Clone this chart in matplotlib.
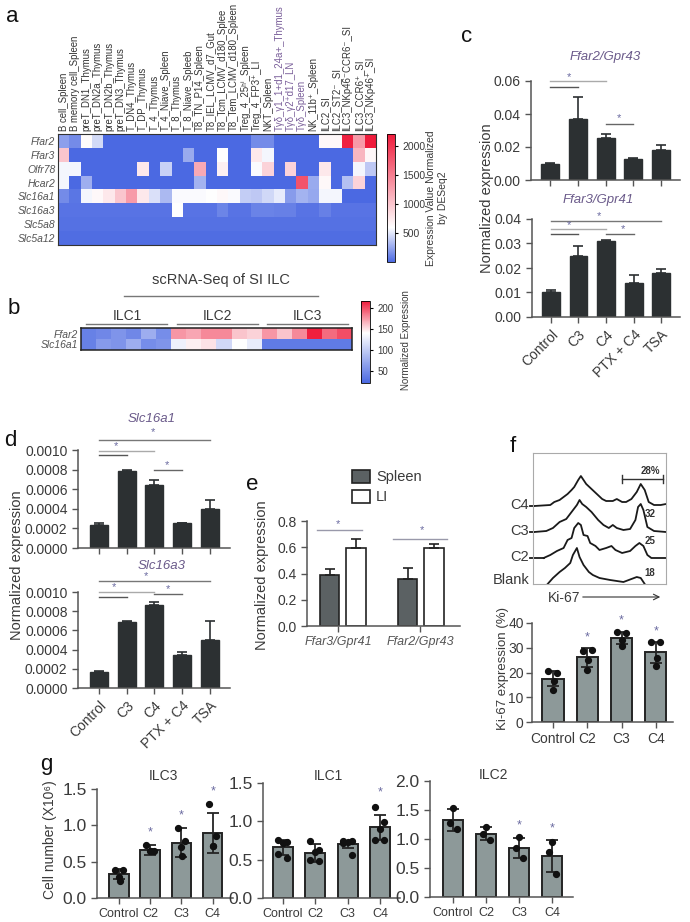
import numpy as np
import matplotlib
matplotlib.use("Agg")
import matplotlib.pyplot as plt
from matplotlib.colors import LinearSegmentedColormap
from matplotlib.lines import Line2D
from matplotlib.patches import Rectangle

plt.rcParams['font.family'] = ['Liberation Sans', 'DejaVu Sans']

# ---------------- data ----------------
cells_a = ["B cell_Spleen", "B memory cell_Spleen", "preT_DN1_Thymus", "preT_DN2a_Thymus",
           "preT_DN2b_Thymus", "preT_DN3_Thymus", "T_DN4_Thymus", "T_DP_Thymus", "T_4_Thymus",
           "T_4_Niave_Spleen", "T_8_Thymus", "T_8_Niave_Spleeb", "T8_TN_P14_Spleen",
           "T8_IEL_LCMV_d7_Gut", "T8_Tcm_LCMV_d180_Splee", "T8_Tem_LCMV_d180_Spleen",
           "Treg_4_25ʰⁱ_Spleen", "Treg_4_FP3⁺_LI", "NKT_Spleen", "Tγδ_γ1_1+d1_24a+_Thymus",
           "Tγδ_γ2⁺d17_LN", "Tγδ_Spleen", "NK_11b⁺_Spleen", "ILC2_SI", "ILC2_ST2⁻_SI",
           "ILC3_NKp46⁻CCR6⁻_SI", "ILC3_CCR6⁺_SI", "ILC3_NKp46⁺_SI"]
genes_a = ["Ffar2", "Ffar3", "Olfr78", "Hcar2", "Slc16a1", "Slc16a3", "Slc5a8", "Slc5a12"]
heat_a = [
    [220, 140, 620, 450, 0, 0, 0, 0, 0, 0, 0, 0, 0, 0, 0, 0, 0, 140, 140, 0, 0, 0, 0, 640, 640, 2150, 1300, 2200],
    [1000, 0, 0, 0, 0, 0, 0, 0, 0, 0, 0, 260, 0, 0, 600, 0, 0, 750, 560, 0, 0, 0, 0, 0, 0, 0, 1100, 650],
    [560, 560, 0, 0, 0, 0, 0, 750, 0, 420, 0, 0, 1200, 0, 700, 0, 0, 580, 900, 0, 900, 0, 0, 750, 0, 0, 560, 380],
    [560, 0, 280, 0, 0, 0, 0, 0, 0, 0, 0, 0, 300, 0, 0, 0, 0, 0, 0, 0, 0, 1800, 260, 640, 0, 350, 900, 0],
    [140, 60, 560, 640, 750, 1000, 1300, 750, 480, 320, 580, 580, 580, 600, 640, 580, 400, 380, 440, 520, 200, 300, 250, 560, 560, 0, 0, 0],
    [50, 50, 50, 50, 50, 50, 50, 50, 50, 50, 600, 50, 50, 50, 120, 50, 50, 110, 110, 100, 100, 50, 50, 100, 50, 50, 50, 50],
    [40] * 28,
    [20] * 28,
]

groups_b = ["ILC1", "ILC2", "ILC3"]
genes_b = ["Ffar2", "Slc16a1"]
heat_b = [
    [40, 45, 55, 45, 75, 50, 175, 170, 180, 180, 160, 155, 175, 160, 180, 215, 190, 200],
    [40, 60, 55, 75, 50, 55, 130, 145, 150, 110, 140, 125, 35, 35, 35, 35, 35, 35],
]

treat_cd = ["Control", "C3", "C4", "PTX + C4", "TSA"]
ffar2_mean = [0.0095, 0.037, 0.0255, 0.013, 0.018]
ffar2_err = [0.0008, 0.013, 0.0025, 0.0005, 0.003]
ffar3_mean = [0.010, 0.025, 0.031, 0.0138, 0.018]
ffar3_err = [0.001, 0.004, 0.0006, 0.0035, 0.0017]
slc16a1_mean = [0.00023, 0.00079, 0.00064, 0.00026, 0.00040]
slc16a1_err = [0.00003, 0.00001, 0.00005, 0.0, 0.00009]
slc16a3_mean = [0.00017, 0.00069, 0.00086, 0.00034, 0.00050]
slc16a3_err = [0.00001, 0.00001, 0.00004, 0.00004, 0.00020]

genes_e = ["Ffar3/Gpr41", "Ffar2/Gpr43"]
spleen_mean = [0.385, 0.355]
spleen_err = [0.05, 0.085]
li_mean = [0.595, 0.595]
li_err = [0.07, 0.03]

# Ki-67 histograms: x position (0-100) and height (px) per sample
ki_samples = ["C4", "C3", "C2", "Blank"]
ki_pct = ["28%", "32", "25", "18"]
ki_x = {
    "C4": [1, 13, 16, 20, 24, 26, 29, 31, 34, 36, 38, 40, 44, 48, 52, 55, 60, 63, 67, 70, 74, 78, 81, 84, 87, 91, 96, 100],
    "C3": [1, 10, 15, 20, 25, 29, 33, 35, 37, 40, 44, 49, 53, 57, 60, 63, 68, 73, 77, 79, 81, 83, 86, 91, 100],
    "C2": [8, 13, 18, 23, 26, 29, 31, 34, 36, 38, 41, 43, 47, 50, 55, 59, 62, 67, 73, 77, 80, 83, 86, 89, 100],
    "Blank": [11, 15, 20, 24, 28, 30, 33, 35, 38, 42, 45, 50, 58, 68, 74, 78, 81, 84],
}
ki_h = {
    "C4": [0, 1, 4, 6, 10, 12, 16, 19, 26, 30, 26, 22, 17, 12, 7, 5, 5, 7, 4, 4, 7, 14, 22, 16, 4, 1, 1, 2],
    "C3": [0, 1, 4, 10, 13, 20, 27, 32, 28, 25, 20, 12, 7, 4, 7, 4, 2, 3, 12, 25, 28, 22, 5, 1, 0],
    "C2": [0, 3, 7, 10, 18, 20, 30, 35, 33, 23, 22, 15, 12, 8, 10, 12, 8, 5, 7, 12, 15, 12, 3, 0, 0],
    "Blank": [0, 6, 12, 16, 21, 29, 36, 27, 19, 12, 9, 6, 4, 2, 5, 7, 6, 0],
}

treat_fg = ["Control", "C2", "C3", "C4"]
ki67_pts = [[20.5, 20.0, 16.5, 13.0], [28.8, 29.2, 25.2, 21.1], [36.2, 36.0, 33.3, 30.6], [32.2, 32.2, 25.9, 22.5]]
ki67_sd = [3.0, 3.8, 2.5, 4.3]
ki67_star = [None, 34, 41, 36.5]

ilc3_pts = [[0.39, 0.39, 0.29, 0.24], [0.73, 0.64, 0.64, 0.64], [0.97, 0.78, 0.70, 0.58], [1.30, 0.85, 0.71, 0.71]]
ilc3_sd = [0.07, 0.07, 0.20, 0.28]
ilc3_star = [None, 0.9, 1.13, 1.46]
ilc1_pts = [[0.76, 0.73, 0.72, 0.58, 0.52], [0.74, 0.63, 0.60, 0.50, 0.48],
            [0.75, 0.74, 0.73, 0.72, 0.56], [1.19, 0.99, 0.90, 0.76, 0.76]]
ilc1_sd = [0.10, 0.12, 0.05, 0.16]
ilc1_star = [None, None, None, 1.38]
ilc2_pts = [[1.53, 1.27, 1.17], [1.20, 1.08, 0.99], [1.03, 0.84, 0.67], [0.94, 0.77, 0.40]]
ilc2_sd = [0.19, 0.11, 0.17, 0.28]
ilc2_star = [None, None, 1.24, 1.18]

# ---------------- layout helpers ----------------
W, H = 690, 922
fig = plt.figure(figsize=(W / 100, H / 100), dpi=100)
fig.patch.set_facecolor("white")
TXT = "#3a3a3a"
STAR = "#6a6aa0"


def px_axes(x0, y0, x1, y1):
    return fig.add_axes([x0 / W, 1 - y1 / H, (x1 - x0) / W, (y1 - y0) / H])


def fig_text(x, y, s, **kw):
    kw.setdefault("color", TXT)
    fig.text(x / W, 1 - y / H, s, **kw)


def fig_line(x0, x1, y, color="#777", lw=1.0):
    fig.add_artist(Line2D([x0 / W, x1 / W], [1 - y / H, 1 - y / H], color=color, lw=lw,
                          transform=fig.transFigure))


def style_axes(ax, size=10):
    for s in ["top", "right"]:
        ax.spines[s].set_visible(False)
    for s in ["left", "bottom"]:
        ax.spines[s].set_color("#555")
        ax.spines[s].set_linewidth(1.1)
    ax.tick_params(direction="out", length=4, width=1, colors="#555", labelsize=size, labelcolor=TXT)


def sig(ax, x0, x1, y, color="#666"):
    ax.plot([x0, x1], [y, y], color=color, lw=1, clip_on=False)


def star(ax, x, y, size=8):
    ax.text(x, y, "*", ha="center", va="center", color=STAR, fontsize=size, clip_on=False)


# ---------------- panel a ----------------
cmap_a = LinearSegmentedColormap.from_list("a", [(0, "#4b69e2"), (0.27, "#ffffff"), (1, "#ef1b3b")])
ax = px_axes(58, 134, 376, 245)
im = ax.imshow(np.array(heat_a), cmap=cmap_a, vmin=0, vmax=2200, aspect="auto", interpolation="nearest")
ax.xaxis.tick_top()
ax.set_xticks(range(len(cells_a)))
ax.set_xticklabels(cells_a, rotation=90, fontsize=6.9, color="#333")
for lab in ax.get_xticklabels():
    if lab.get_text().startswith("Tγδ"):
        lab.set_color("#7a5f9a")
ax.set_yticks(range(len(genes_a)))
ax.set_yticklabels(genes_a, fontstyle="italic", fontsize=7.5, color="#555")
ax.tick_params(length=0, pad=2)
for s in ax.spines.values():
    s.set_color("#333")
cax = px_axes(387, 134, 395, 262)
cb = fig.colorbar(im, cax=cax, ticks=[500, 1000, 1500, 2000])
cb.outline.set_linewidth(0.6)
cax.tick_params(labelsize=7.5, length=2, labelcolor=TXT)
fig_text(437, 198, "Expression Value Normalized\nby DESeq2", rotation=90, ha="center", va="center",
         fontsize=7.5, multialignment="center")

# ---------------- panel b ----------------
cmap_b = LinearSegmentedColormap.from_list("b", [(0, "#4b69e2"), (0.61, "#ffffff"), (1, "#ef1b3b")])
fig_text(221, 280, "scRNA-Seq of SI ILC", ha="center", va="center", fontsize=10.5)
fig_line(124, 318, 296)
for name, cx, x0, x1 in zip(groups_b, [127, 217, 307], [86, 177, 267], [167, 258, 348]):
    fig_text(cx, 316, name, ha="center", va="center", fontsize=10)
    fig_line(x0, x1, 324)
ax = px_axes(81, 328, 352, 350)
imb = ax.imshow(np.array(heat_b), cmap=cmap_b, vmin=20, vmax=217, aspect="auto", interpolation="nearest")
ax.set_xticks([])
ax.set_yticks(range(len(genes_b)))
ax.set_yticklabels(genes_b, fontstyle="italic", fontsize=7.5, color="#555")
ax.tick_params(length=0, pad=2)
for s in ax.spines.values():
    s.set_color("#222")
    s.set_linewidth(1.1)
cax = px_axes(361, 301, 370, 383)
cb = fig.colorbar(imb, cax=cax, ticks=[50, 100, 150, 200])
cb.outline.set_linewidth(0.6)
cax.tick_params(labelsize=7, length=2, labelcolor=TXT)
fig_text(406, 340, "Normalized Expression", rotation=90, ha="center", va="center", fontsize=7)

# ---------------- panel c ----------------
BAR_DARK = "#2c3032"


def bar_up(ax, means, errs, width=0.65):
    x = np.arange(len(means))
    ax.bar(x, means, width=width, color=BAR_DARK, edgecolor=BAR_DARK, zorder=2)
    ax.errorbar(x, means, yerr=[np.zeros(len(errs)), errs], fmt="none", ecolor=BAR_DARK,
                elinewidth=1.2, capsize=3.5, capthick=1.2, zorder=3)


ax = px_axes(531, 81, 680, 180)
bar_up(ax, ffar2_mean, ffar2_err)
ax.set_xlim(-0.685, 4.68)
ax.set_ylim(0, 0.06)
ax.set_yticks([0, 0.02, 0.04, 0.06])
ax.set_yticklabels(["0.00", "0.02", "0.04", "0.06"])
ax.set_xticks(range(5))
ax.set_xticklabels([])
style_axes(ax)
sig(ax, 0, 1, 0.0565, "#555")
sig(ax, 0, 2, 0.0597, "#aaa")
star(ax, 0.68, 0.0625)
sig(ax, 2, 3, 0.034)
star(ax, 2.5, 0.0375)
fig_text(605, 57, "Ffar2/Gpr43", ha="center", va="center", fontsize=9.5, fontstyle="italic", color="#6a5a8a")

ax = px_axes(532, 219, 680, 317)
bar_up(ax, ffar3_mean, ffar3_err)
ax.set_xlim(-0.685, 4.68)
ax.set_ylim(0, 0.04)
ax.set_yticks([0, 0.01, 0.02, 0.03, 0.04])
ax.set_yticklabels(["0.00", "0.01", "0.02", "0.03", "0.04"])
ax.set_xticks(range(5))
ax.set_xticklabels(treat_cd, rotation=45, ha="right", rotation_mode="anchor")
style_axes(ax)
sig(ax, 0, 4, 0.0393, "#777")
star(ax, 1.73, 0.0412)
sig(ax, 0, 2, 0.0358, "#aaa")
star(ax, 0.65, 0.0375)
sig(ax, 0, 1, 0.034, "#555")
sig(ax, 2, 3, 0.034)
star(ax, 2.6, 0.0357)
fig_text(598, 200, "Ffar3/Gpr41", ha="center", va="center", fontsize=9.5, fontstyle="italic", color="#6a5a8a")
fig_text(487, 198, "Normalized expression", rotation=90, ha="center", va="center", fontsize=10.5)

# ---------------- panel d ----------------
ax = px_axes(78, 450, 230, 548)
bar_up(ax, slc16a1_mean, slc16a1_err)
ax.set_xlim(-0.764, 4.73)
ax.set_ylim(0, 0.001)
ax.set_yticks(np.arange(0, 0.0011, 0.0002))
ax.set_yticklabels(["0.0000", "0.0002", "0.0004", "0.0006", "0.0008", "0.0010"])
ax.set_xticks(range(5))
ax.set_xticklabels([])
style_axes(ax)
sig(ax, 0, 4, 0.0011, "#777")
star(ax, 1.93, 0.00118)
sig(ax, 0, 1, 0.00095, "#555")
sig(ax, 0, 2, 0.00099, "#aaa")
star(ax, 0.6, 0.00104)
sig(ax, 2, 3, 0.0008)
star(ax, 2.45, 0.00085)
fig_text(152, 419, "Slc16a1", ha="center", va="center", fontsize=9.5, fontstyle="italic", color="#6a5a8a")

ax = px_axes(78, 592, 230, 688)
bar_up(ax, slc16a3_mean, slc16a3_err)
ax.set_xlim(-0.764, 4.73)
ax.set_ylim(0, 0.001)
ax.set_yticks(np.arange(0, 0.0011, 0.0002))
ax.set_yticklabels(["0.0000", "0.0002", "0.0004", "0.0006", "0.0008", "0.0010"])
ax.set_xticks(range(5))
ax.set_xticklabels(treat_cd, rotation=45, ha="right", rotation_mode="anchor")
style_axes(ax)
sig(ax, 0, 4, 0.00111, "#777")
star(ax, 1.7, 0.00117)
sig(ax, 0, 1, 0.00095, "#555")
sig(ax, 0, 2, 0.001, "#aaa")
star(ax, 0.55, 0.00105)
sig(ax, 2, 3, 0.00098)
star(ax, 2.5, 0.00103)
fig_text(162, 566, "Slc16a3", ha="center", va="center", fontsize=9.5, fontstyle="italic", color="#6a5a8a")
fig_text(17, 565, "Normalized expression", rotation=90, ha="center", va="center", fontsize=10.5)

# ---------------- panel e ----------------
ax = px_axes(307, 521, 460, 626)
xg = np.arange(len(genes_e))
ax.bar(xg - 0.16, spleen_mean, width=0.24, color="#5b6163", edgecolor="#222", lw=1.2, zorder=2)
ax.bar(xg + 0.18, li_mean, width=0.26, color="white", edgecolor="#222", lw=1.2, zorder=2)
ax.errorbar(xg - 0.16, spleen_mean, yerr=[np.zeros(2), spleen_err], fmt="none", ecolor="#222",
            elinewidth=1.2, capsize=3.5, capthick=1.2, zorder=3)
ax.errorbar(xg + 0.18, li_mean, yerr=[np.zeros(2), li_err], fmt="none", ecolor="#222",
            elinewidth=1.2, capsize=3.5, capthick=1.2, zorder=3)
ax.set_xlim(-0.449, 1.513)
ax.set_ylim(0, 0.8)
ax.set_yticks(np.arange(0, 0.81, 0.2))
ax.set_yticklabels(["0.0", "0.2", "0.4", "0.6", "0.8"])
ax.set_xticks([-0.05, 1.0])
ax.set_xticklabels(genes_e, fontstyle="italic", fontsize=9, color="#555")
style_axes(ax)
ax.tick_params(axis="x", labelcolor="#555", labelsize=9)
sig(ax, -0.32, 0.26, 0.729, "#99a")
star(ax, -0.05, 0.775)
sig(ax, 0.65, 1.35, 0.66, "#99a")
star(ax, 1.03, 0.73)
fig.add_artist(Rectangle((352 / W, 1 - 483 / H), 18 / W, 13 / H, facecolor="#5b6163", edgecolor="#222",
                         lw=1.2, transform=fig.transFigure))
fig.add_artist(Rectangle((352 / W, 1 - 503 / H), 18 / W, 13 / H, facecolor="white", edgecolor="#222",
                         lw=1.2, transform=fig.transFigure))
fig_text(376, 477, "Spleen", ha="left", va="center", fontsize=10.5)
fig_text(376, 497, "LI", ha="left", va="center", fontsize=10.5)
fig_text(262, 575, "Normalized expression", rotation=90, ha="center", va="center", fontsize=10.5)

# ---------------- panel f ----------------
ax = px_axes(533, 453, 666, 584)
for i, name in enumerate(ki_samples):
    base = 26 * (3 - i)
    ax.plot(ki_x[name], np.array(ki_h[name]) + base, color="#1a1a1a", lw=1.3)
    if name != "Blank":
        ax.plot([-2, ki_x[name][0]], [base, base], color="#1a1a1a", lw=1.3, clip_on=False)
    fig_text(529, 505 + 26 * i if name != "Blank" else 580, name, ha="right", va="center", fontsize=10.5)
ax.set_xlim(0, 100)
ax.set_ylim(0, 131)
ax.set_xticks([])
ax.set_yticks([])
for s in ax.spines.values():
    s.set_color("#aaa")
    s.set_linewidth(0.8)
ax.plot([67, 98], [105, 105], color="#333", lw=1)
ax.plot([67, 67], [101, 109], color="#333", lw=1)
ax.plot([98, 98], [101, 109], color="#333", lw=1)
for lab, yy in zip(ki_pct, [113, 70, 43, 11]):
    ax.text(88, yy, lab, ha="center", va="center", fontsize=7, fontweight="bold", color="#333")
fig_text(548, 598, "Ki-67", ha="left", va="center", fontsize=10)
ax.annotate("", xy=(663 / W, 1 - 597 / H), xytext=(580 / W, 1 - 597 / H), xycoords="figure fraction",
            arrowprops=dict(arrowstyle="->", lw=0.8, color="#333"))


def dot_bars(ax, pts, sds, stars, offsets, star_size=9):
    means = [np.mean(p) for p in pts]
    x = np.arange(len(pts))
    ax.bar(x, means, width=0.62, color="#8d9999", edgecolor="#242424", lw=1.4, zorder=2)
    ax.errorbar(x, means, yerr=sds, fmt="none", ecolor="#242424", elinewidth=1.3, capsize=4,
                capthick=1.3, zorder=3)
    for i, p in enumerate(pts):
        ax.plot(i + np.array(offsets[:len(p)]), p, "o", color="#111", ms=4.2, zorder=4)
        if stars[i] is not None:
            star(ax, i, stars[i], star_size)


ax = px_axes(532, 623, 673, 722)
dot_bars(ax, ki67_pts, ki67_sd, ki67_star, [-0.13, 0.13, 0.02, 0.0])
ax.set_xlim(-0.61, 3.5)
ax.set_ylim(0, 40)
ax.set_yticks([0, 10, 20, 30, 40])
ax.set_xticks(range(4))
ax.set_xticklabels(treat_fg)
style_axes(ax, 10)
ax.tick_params(axis="y", pad=2)
fig_text(503, 668, "Ki-67 expression (%)", rotation=90, ha="center", va="center", fontsize=9.5)

# ---------------- panel g ----------------
ax = px_axes(97, 789, 233, 898)
dot_bars(ax, ilc3_pts, ilc3_sd, ilc3_star, [-0.12, 0.12, 0.0, 0.02])
ax.set_xlim(-0.70, 3.65)
ax.set_ylim(0, 1.5)
ax.set_yticks([0, 0.5, 1.0, 1.5])
ax.set_yticklabels(["0.0", "0.5", "1.0", "1.5"])
ax.set_xticks(range(4))
ax.set_xticklabels(treat_fg)
style_axes(ax, 12.5)
ax.tick_params(axis="x", labelsize=9)
fig_text(163, 776, "ILC3", ha="center", va="center", fontsize=10)

ax = px_axes(263, 783, 400, 898)
dot_bars(ax, ilc1_pts, ilc1_sd, ilc1_star, [-0.15, 0.12, 0.0, -0.15, 0.12])
ax.set_xlim(-0.62, 3.62)
ax.set_ylim(0, 1.5)
ax.set_yticks([0, 0.5, 1.0, 1.5])
ax.set_yticklabels(["0.0", "0.5", "1.0", "1.5"])
ax.set_xticks(range(4))
ax.set_xticklabels(treat_fg)
style_axes(ax, 12.5)
ax.tick_params(axis="x", labelsize=9)
fig_text(328, 776, "ILC1", ha="center", va="center", fontsize=10)

ax = px_axes(430, 781, 573, 897)
dot_bars(ax, ilc2_pts, ilc2_sd, ilc2_star, [0.0, -0.1, 0.12])
ax.set_xlim(-0.70, 3.64)
ax.set_ylim(0, 2.0)
ax.set_yticks([0, 0.5, 1.0, 1.5, 2.0])
ax.set_yticklabels(["0.0", "0.5", "1.0", "1.5", "2.0"])
ax.set_xticks(range(4))
ax.set_xticklabels(treat_fg)
style_axes(ax, 12.5)
ax.tick_params(axis="x", labelsize=9)
fig_text(493, 775, "ILC2", ha="center", va="center", fontsize=10)
fig_text(50, 840, "Cell number (X10⁶)", rotation=90, ha="center", va="center", fontsize=10)

# ---------------- panel letters ----------------
for letter, x, y in [("a", 12, 16), ("b", 14, 308), ("c", 467, 36), ("d", 10, 440),
                     ("e", 252, 484), ("f", 513, 446), ("g", 46, 764)]:
    fig_text(x, y, letter, ha="center", va="center", fontsize=16, color="#111")

fig.savefig("out.png", dpi=100)
